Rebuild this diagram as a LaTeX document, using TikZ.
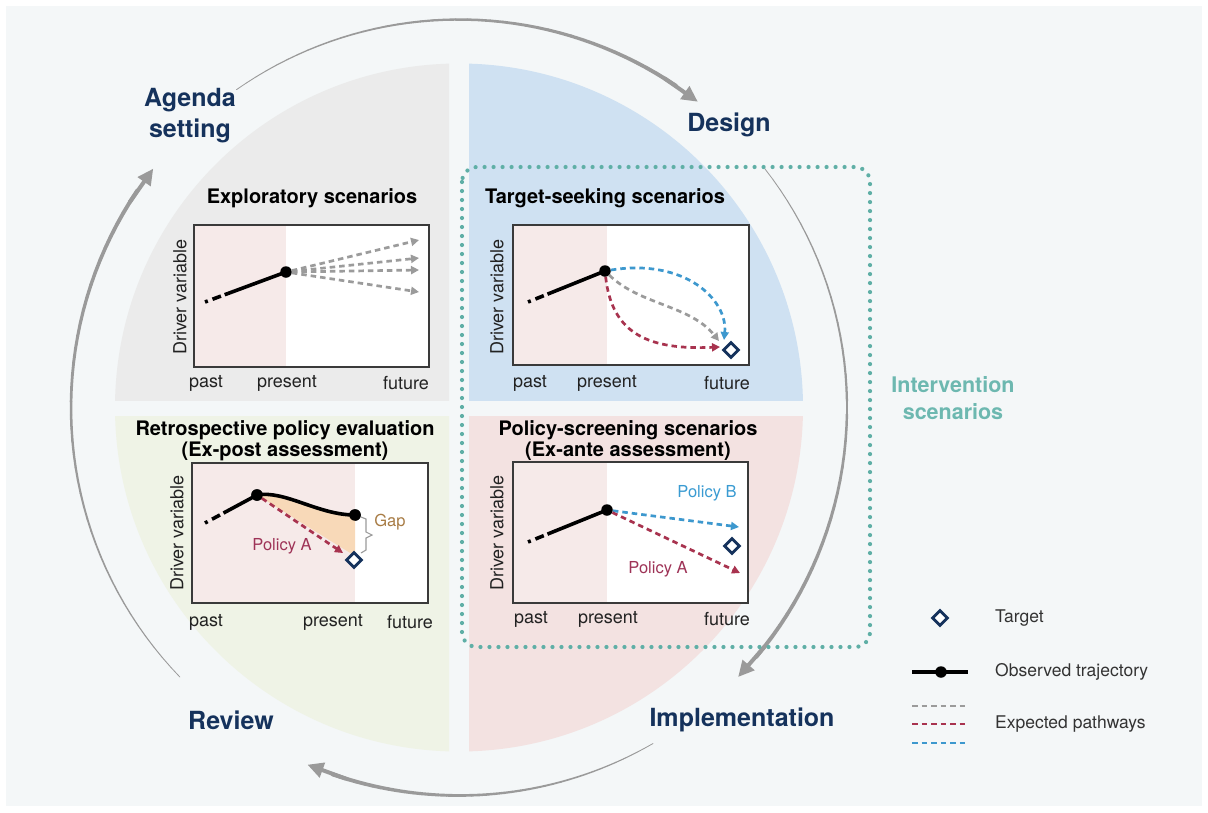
\documentclass[tikz,border=0pt]{standalone}
\usepackage{fontspec}
\setmainfont{TeX Gyre Heros}
\usetikzlibrary{arrows.meta,shapes.geometric}
\definecolor{bg}{HTML}{F4F7F8}
\definecolor{qgray}{HTML}{EBEBEB}
\definecolor{qblue}{HTML}{CFE1F2}
\definecolor{qgreen}{HTML}{EFF3E6}
\definecolor{qpink}{HTML}{F3E2E1}
\definecolor{pastc}{HTML}{F6EAE9}
\definecolor{cycgray}{HTML}{9A9A9A}
\definecolor{navy}{HTML}{15325C}
\definecolor{teal}{HTML}{6DB8B0}
\definecolor{dotteal}{HTML}{5FAFA6}
\definecolor{boxc}{HTML}{3A3A3A}
\definecolor{txt}{HTML}{222222}
\definecolor{legtxt}{HTML}{333333}
\definecolor{pgray}{HTML}{9B9B9B}
\definecolor{pred}{HTML}{A8334F}
\definecolor{pblue}{HTML}{3D98CE}
\definecolor{polA}{HTML}{9E3357}
\definecolor{polB}{HTML}{3A9BD2}
\definecolor{gapc}{HTML}{A87C45}
\definecolor{peach}{HTML}{F8D9B8}
\newcommand{\taperarc}[4]{%
  \foreach \i in {1,...,40}{%
    \pgfmathsetmacro\aa{#1+(#2-#1)*(\i-1)/40}%
    \pgfmathsetmacro\ab{#1+(#2-#1)*\i/40}%
    \pgfmathsetmacro\ww{#3+(#4-#3)*\i/40}%
    \draw[cyc, line width=\ww pt] ({459+388*cos(\aa)},{407.5-388*sin(\aa)}) -- ({459+388*cos(\ab)},{407.5-388*sin(\ab)});
  }}
\newcommand{\arcarrow}[2]{%
  \draw[cyc, line width=4pt, -{Triangle[length=16pt,width=15pt]}] ({459+388*cos(#1)},{407.5-388*sin(#1)}) -- ({459+388*cos(#2)},{407.5-388*sin(#2)});}
\begin{document}
\begin{tikzpicture}[x=1pt,y=-1pt,
  cyc/.style={draw=cycgray, line cap=round},
  plotbox/.style={draw=boxc, line width=1.8pt},
  ttl/.style={font=\fontsize{20}{21}\selectfont\bfseries, align=center, text=black, inner sep=0pt},
  lab/.style={font=\fontsize{18}{20}\selectfont, text=txt, inner sep=0pt},
  leg/.style={font=\fontsize{17.5}{20}\selectfont, text=legtxt, inner sep=0pt, anchor=west},
  phase/.style={font=\fontsize{25}{31}\selectfont\bfseries, text=navy, align=center, inner sep=0pt},
  interv/.style={font=\fontsize{21.5}{26.5}\selectfont\bfseries, text=teal, align=center, inner sep=0pt},
  obs/.style={line width=3.6pt, black},
  dotn/.style={circle, fill=black, inner sep=0pt, minimum size=11.5pt},
  tgt/.style={diamond, draw=navy, fill=white, line width=2.8pt, inner sep=0pt, minimum size=16pt},
  expd/.style={line width=2.7pt, dash pattern=on 5.5pt off 4pt},
  arr/.style={-{Triangle[length=8pt,width=8pt]}},
  pol/.style={font=\fontsize{16.5}{18}\selectfont, inner sep=0pt},
]
\useasboundingbox (0,0) rectangle (1208,812);
\fill[white] (0,0) rectangle (1208,812);
\fill[bg] (6,6) rectangle (1202,806);

% quadrants
\begin{scope}\clip (0,0) rectangle (449,400); \fill[qgray] (459,407.5) circle[radius=344]; \end{scope}
\begin{scope}\clip (469,0) rectangle (1208,400); \fill[qblue] (459,407.5) circle[radius=344]; \end{scope}
\begin{scope}\clip (0,416) rectangle (449,812); \fill[qgreen] (459,407.5) circle[radius=344]; \end{scope}
\begin{scope}\clip (469,416) rectangle (1208,812); \fill[qpink] (459,407.5) circle[radius=344]; \end{scope}

% cycle arrows
\taperarc{125}{56}{0.7}{4}
\arcarrow{58}{52}
\taperarc{38}{-40}{0.7}{4}
\arcarrow{-38}{-44}
\taperarc{-60}{-109}{0.7}{4}
\arcarrow{-107}{-113}
\taperarc{224}{146}{0.7}{4}
\arcarrow{148}{142}

% phase labels
\node[phase] (agenda) at (190,116) {Agenda\\setting};
\node[phase] (design) at (729,125) {Design};
\node[phase] (review) at (231,720) {Review};
\node[phase] (impl) at (742,720) {Implementation};

% intervention box
\draw[dotteal, line width=4.2pt, line cap=round, dash pattern=on 0pt off 9pt, rounded corners=15pt] (462,167) rectangle (870,647);
\node[interv] (interv) at (953,398) {Intervention\\scenarios};

% ---------- Exploratory ----------
\node[ttl] (t1) at (312,198) {Exploratory scenarios};
\fill[white] (194,225) rectangle (429,367);
\fill[pastc] (194,225) rectangle (286,367);
\draw[plotbox] (194,225) rectangle (429,367);
\node[lab, rotate=90] (dv1) at (180,297) {Driver variable};
\node[lab] (pa1) at (206,383) {past};
\node[lab] (pr1) at (287,383) {present};
\node[lab] (fu1) at (406,383) {future};
\coordinate (s1) at (205,302);
\node[dotn] (p1) at (286,272) {};
\draw[obs, dash pattern=on 3pt off 5pt on 9pt off 4pt on 300pt] (s1) -- (p1.center);
\draw[expd, pgray, arr] (p1) -- (419,240);
\draw[expd, pgray, arr] (p1) -- (419,258);
\draw[expd, pgray, arr] (p1) -- (419,270);
\draw[expd, pgray, arr] (p1) -- (419,292);

% ---------- Target-seeking ----------
\node[ttl] (t2) at (605,198) {Target-seeking scenarios};
\fill[white] (513,225) rectangle (749,365);
\fill[pastc] (513,225) rectangle (607,365);
\draw[plotbox] (513,225) rectangle (749,365);
\node[lab, rotate=90] (dv2) at (497,297) {Driver variable};
\node[lab] (pa2) at (530,383) {past};
\node[lab] (pr2) at (607,383) {present};
\node[lab] (fu2) at (727,383) {future};
\coordinate (s2) at (528,302);
\node[dotn] (p2) at (605,271) {};
\node[tgt] (g2) at (731,350) {};
\draw[obs, dash pattern=on 3pt off 5pt on 9pt off 4pt on 300pt] (s2) -- (p2.center);
\draw[expd, pblue, arr] (p2) .. controls (685,258) and (728,300) .. (724,340);
\draw[expd, pgray, arr] (p2) .. controls (640,305) and (690,305) .. (719,341);
\draw[expd, pred, arr] (p2) .. controls (612,335) and (650,350) .. (720,347);

% ---------- Retrospective ----------
\node[ttl] (t3) at (285,441) {Retrospective policy evaluation\\(Ex-post assessment)};
\fill[white] (192,463) rectangle (428,603);
\fill[pastc] (192,463) rectangle (355,603);
\draw[plotbox] (192,463) rectangle (428,603);
\node[lab, rotate=90] (dv3) at (177,533) {Driver variable};
\node[lab] (pa3) at (206,622) {past};
\node[lab] (pr3) at (333,622) {present};
\node[lab] (fu3) at (410,622) {future};
\coordinate (s3) at (205,523);
\node[dotn] (p3) at (257,495) {};
\node[dotn] (q3) at (355,515) {};
\fill[peach] (257,495) .. controls (285,490) and (318,515) .. (355,515) -- (355,556) -- cycle;
\node[tgt] (g3) at (354,560) {};
\draw[expd, pred, arr] (p3) -- (343,553);
\draw[obs, dash pattern=on 3pt off 5pt on 9pt off 4pt on 300pt] (s3) -- (p3.center);
\draw[obs] (p3.center) .. controls (285,490) and (318,515) .. (q3.center);
\node[dotn] at (p3) {};
\node[dotn] at (q3) {};
\draw[pgray, line width=1.1pt] (361,517) -- (366,519) -- (366,532) -- (372,535) -- (366,538) -- (366,550) -- (361,553);
\node[pol, text=gapc] (gap) at (390,522) {Gap};
\node[pol, text=polA] (pa3l) at (282,546) {Policy A};

% ---------- Policy-screening ----------
\node[ttl] (t4) at (628,441) {Policy-screening scenarios\\(Ex-ante assessment)};
\fill[white] (513,462) rectangle (748,603);
\fill[pastc] (513,462) rectangle (607,603);
\draw[plotbox] (513,462) rectangle (748,603);
\node[lab, rotate=90] (dv4) at (497,533) {Driver variable};
\node[lab] (pa4) at (531,619) {past};
\node[lab] (pr4) at (608,619) {present};
\node[lab] (fu4) at (727,619) {future};
\coordinate (s4) at (528,542);
\node[dotn] (p4) at (607,510) {};
\node[tgt] (g4) at (732,546) {};
\draw[obs, dash pattern=on 3pt off 5pt on 9pt off 4pt on 300pt] (s4) -- (p4.center);
\draw[expd, pblue, arr] (p4) -- (739,527);
\draw[expd, pred, arr] (p4) -- (740,573);
\node[pol, text=polB] (pb4l) at (707,493) {Policy B};
\node[pol, text=polA] (pa4l) at (658,569) {Policy A};

% ---------- Legend ----------
\node[tgt] (lg1) at (940,618) {};
\node[leg] (lt1) at (995,618) {Target};
\coordinate (lo1) at (912,672);
\coordinate (lo2) at (968,672);
\draw[obs] (lo1) -- (lo2);
\node[dotn] (lod) at (941,672) {};
\node[leg] (lt2) at (995,672) {Observed trajectory};
\coordinate (la1) at (912,706); \coordinate (la2) at (968,706);
\coordinate (lb1) at (912,724); \coordinate (lb2) at (968,724);
\coordinate (lc1) at (912,743); \coordinate (lc2) at (968,743);
\draw[expd, pgray] (la1) -- (la2);
\draw[expd, pred] (lb1) -- (lb2);
\draw[expd, pblue] (lc1) -- (lc2);
\node[leg] (lt3) at (995,724) {Expected pathways};
\end{tikzpicture}
\end{document}
